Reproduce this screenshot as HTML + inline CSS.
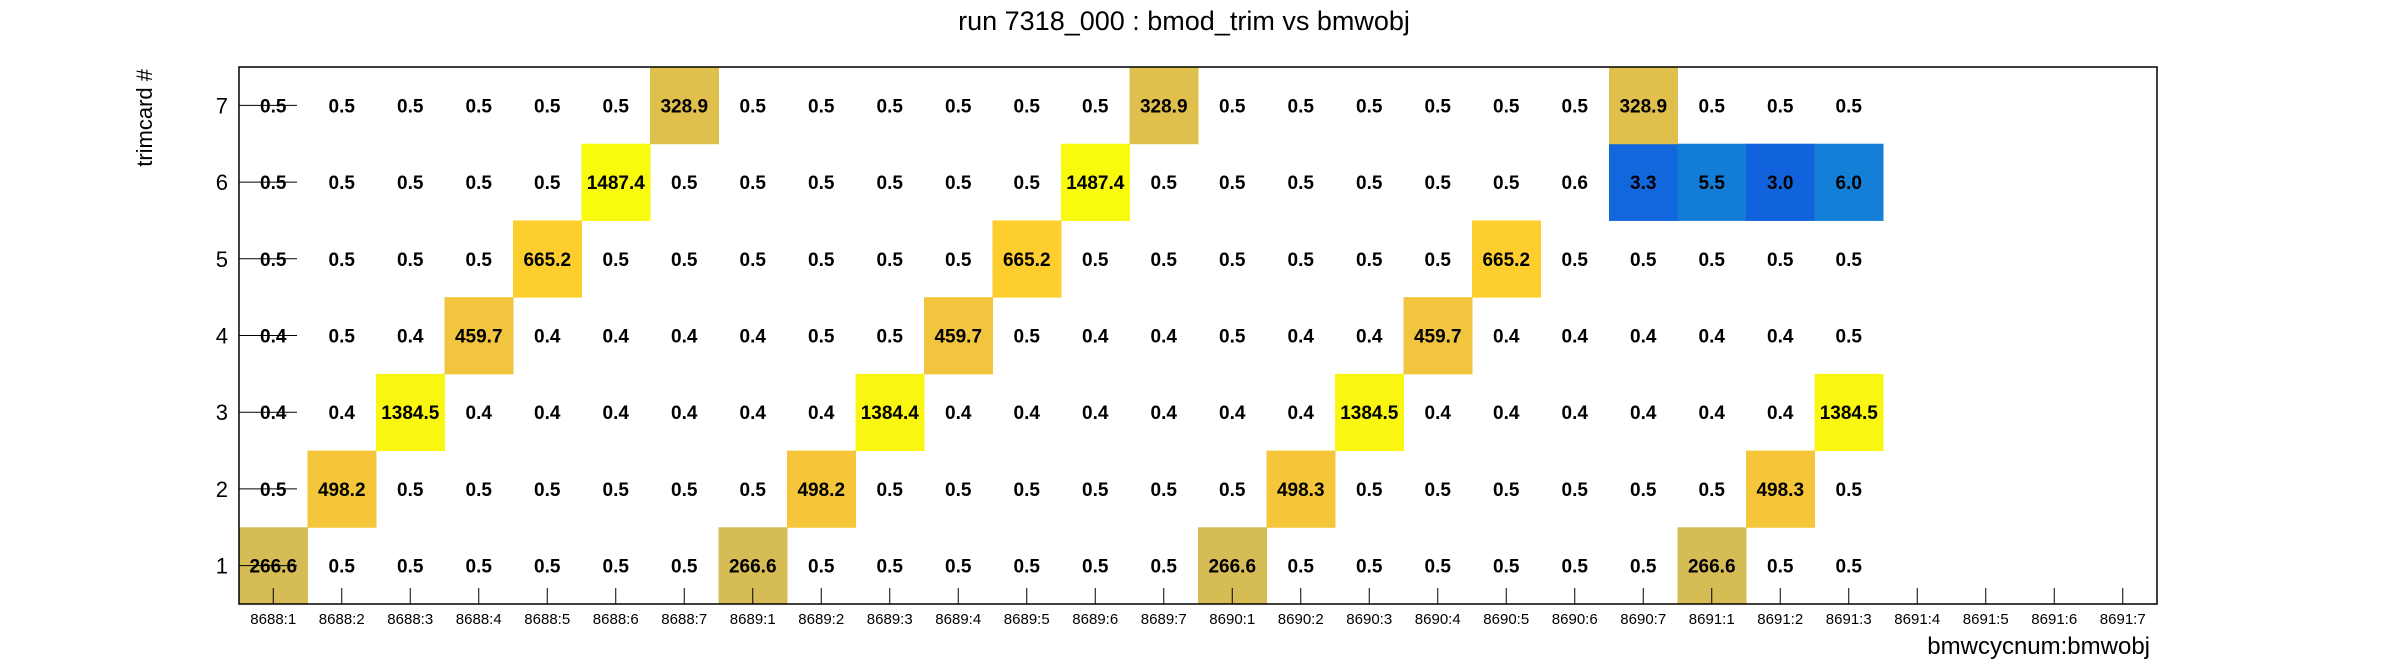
<!DOCTYPE html>
<html><head><meta charset="utf-8"><style>
html,body{margin:0;padding:0;background:#fff;}
svg{display:block;font-family:"Liberation Sans",sans-serif;}
</style></head><body>
<svg id="chart" width="2396" height="672" viewBox="0 0 2396 672">
<text x="1184" y="30" text-anchor="middle" font-size="27">run 7318_000 : bmod_trim vs bmwobj</text>
<text transform="translate(152,69) rotate(-90)" text-anchor="end" font-size="22">trimcard #</text>
<text x="2150" y="654" text-anchor="end" font-size="24">bmwcycnum:bmwobj</text>
<g id="cells"></g>
<g id="axes"></g>
</svg>
<script>
const xCategories = ["8688:1","8688:2","8688:3","8688:4","8688:5","8688:6","8688:7","8689:1","8689:2","8689:3","8689:4","8689:5","8689:6","8689:7","8690:1","8690:2","8690:3","8690:4","8690:5","8690:6","8690:7","8691:1","8691:2","8691:3","8691:4","8691:5","8691:6","8691:7"];
const yCategories = ["1","2","3","4","5","6","7"];
const row1 = [266.6,0.5,0.5,0.5,0.5,0.5,0.5,266.6,0.5,0.5,0.5,0.5,0.5,0.5,266.6,0.5,0.5,0.5,0.5,0.5,0.5,266.6,0.5,0.5];
const row2 = [0.5,498.2,0.5,0.5,0.5,0.5,0.5,0.5,498.2,0.5,0.5,0.5,0.5,0.5,0.5,498.3,0.5,0.5,0.5,0.5,0.5,0.5,498.3,0.5];
const row3 = [0.4,0.4,1384.5,0.4,0.4,0.4,0.4,0.4,0.4,1384.4,0.4,0.4,0.4,0.4,0.4,0.4,1384.5,0.4,0.4,0.4,0.4,0.4,0.4,1384.5];
const row4 = [0.4,0.5,0.4,459.7,0.4,0.4,0.4,0.4,0.5,0.5,459.7,0.5,0.4,0.4,0.5,0.4,0.4,459.7,0.4,0.4,0.4,0.4,0.4,0.5];
const row5 = [0.5,0.5,0.5,0.5,665.2,0.5,0.5,0.5,0.5,0.5,0.5,665.2,0.5,0.5,0.5,0.5,0.5,0.5,665.2,0.5,0.5,0.5,0.5,0.5];
const row6 = [0.5,0.5,0.5,0.5,0.5,1487.4,0.5,0.5,0.5,0.5,0.5,0.5,1487.4,0.5,0.5,0.5,0.5,0.5,0.5,0.6,3.3,5.5,3.0,6.0];
const row7 = [0.5,0.5,0.5,0.5,0.5,0.5,328.9,0.5,0.5,0.5,0.5,0.5,0.5,328.9,0.5,0.5,0.5,0.5,0.5,0.5,328.9,0.5,0.5,0.5];
const rows = [row1,row2,row3,row4,row5,row6,row7];

const NS="http://www.w3.org/2000/svg";
const L=239,R=2157,T=67,B=604;
const cw=(R-L)/xCategories.length, ch=(B-T)/yCategories.length;
function xPos(i){return L+i*cw;}
function yPos(j){return B-(j+1)*ch;}
const stops=[[0.2082,0.1664,0.5293],[0.0592,0.3599,0.8684],[0.0780,0.5041,0.8385],[0.0232,0.6419,0.7914],[0.1802,0.7178,0.6425],[0.5301,0.7492,0.4662],[0.8186,0.7328,0.3499],[0.9956,0.7862,0.1968],[0.9764,0.9832,0.0539]];
let vmax=0;rows.forEach(r=>r.forEach(v=>{if(v>vmax)vmax=v;}));
function color(v){
  let t=Math.log(v)/Math.log(vmax);t=Math.max(0,Math.min(1,t));
  const s=t*(stops.length-1),k=Math.min(stops.length-2,Math.floor(s)),f=s-k;
  const c=stops[k].map((a,i)=>Math.round(255*(a+(stops[k+1][i]-a)*f)));
  return "rgb("+c.join(",")+")";
}
function mk(tag,attrs,parent){const e=document.createElementNS(NS,tag);for(const k in attrs)e.setAttribute(k,attrs[k]);parent.appendChild(e);return e;}
const cells=document.getElementById('cells'), axes=document.getElementById('axes');
rows.forEach((r,j)=>r.forEach((v,i)=>{
  if(v>=1){
    const rc=mk('rect',{x:xPos(i),y:yPos(j),width:cw+0.5,height:ch+0.5,fill:color(v)},cells);
    
    
  }
  const t=mk('text',{x:xPos(i)+cw/2,y:yPos(j)+ch/2+7,'text-anchor':'middle','font-size':19,'font-weight':'bold'},cells);
  t.textContent=v.toFixed(1);
  
  
}));
const frame=mk('rect',{x:L,y:T,width:R-L,height:B-T,fill:'none',stroke:'#000','stroke-width':1.5},axes);


xCategories.forEach((c,i)=>{
  const cx=xPos(i)+cw/2;
  const tk=mk('line',{x1:cx,x2:cx,y1:B,y2:B-16,stroke:'#000','stroke-width':1},axes);
  
  
  const tl=mk('text',{x:cx,y:624,'text-anchor':'middle','font-size':15},axes);
  tl.textContent=c;
  
  
});
yCategories.forEach((c,j)=>{
  const cy=yPos(j)+ch/2;
  const tk=mk('line',{x1:L,x2:L+58,y1:cy,y2:cy,stroke:'#000','stroke-width':1},axes);
  
  
  const tl=mk('text',{x:228,y:cy+8,'text-anchor':'end','font-size':22},axes);
  tl.textContent=c;
  
  
});
</script>
</body></html>
